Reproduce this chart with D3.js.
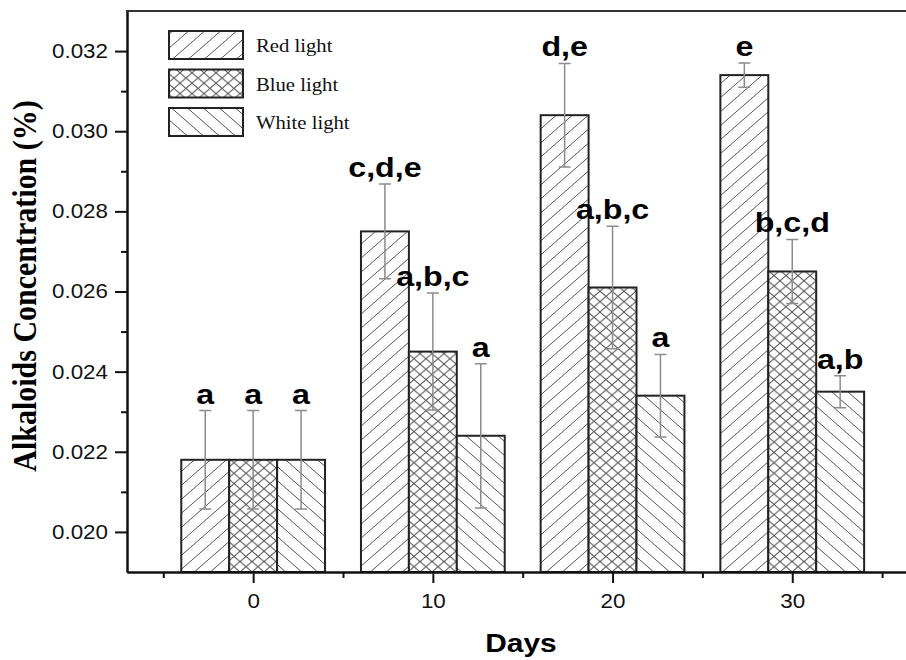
<!DOCTYPE html>
<html>
<head>
<meta charset="utf-8">
<script src="https://cdn.jsdelivr.net/npm/d3@7/dist/d3.min.js"></script>
<style>
  body { margin: 0; background: #fff; }
  svg { display: block; }
</style>
</head>
<body>
<div id="chart"></div>
<script>
const days = [0, 10, 20, 30];
const seriesNames = ["Red light", "Blue light", "White light"];
const redMeans = [0.0218, 0.0275, 0.0304, 0.0314];
const redErr = [0.00123, 0.00118, 0.00129, 0.0003];
const redLetters = ["a", "c,d,e", "d,e", "e"];
const blueMeans = [0.0218, 0.0245, 0.0261, 0.0265];
const blueErr = [0.00123, 0.00146, 0.00153, 0.0008];
const blueLetters = ["a", "a,b,c", "a,b,c", "b,c,d"];
const whiteMeans = [0.0218, 0.0224, 0.0234, 0.0235];
const whiteErr = [0.00123, 0.0018, 0.00103, 0.0004];
const whiteLetters = ["a", "a", "a", "a,b"];
const yTicks = [0.020, 0.022, 0.024, 0.026, 0.028, 0.030, 0.032];
const yMinorTicks = [0.021, 0.023, 0.025, 0.027, 0.029, 0.031];
const xTicks = [0, 10, 20, 30];
const xMinorTicks = [-5, 5, 15, 25, 35];

(function() {
    const width = 906, height = 660;
    const STRETCH = 1.15; // the original figure is a bit wider than tall
    const barW = 8/3;     // bar width in days

    const x = d3.scaleLinear().domain([-7.02, 36.33]).range([127, 906]);
    const y = d3.scaleLinear().domain([0.019, 0.033]).range([572, 11]);

    const svg = d3.select("#chart").append("svg")
            .attr("width", width)
            .attr("height", height);

    // hatch patterns
    const defs = svg.append("defs");
    function hatch(id, w, h, dirs) {
        const p = defs.append("pattern")
                .attr("id", id)
                .attr("patternUnits", "userSpaceOnUse")
                .attr("width", w)
                .attr("height", h);
        p.append("rect").attr("width", w).attr("height", h).attr("fill", "#fff");
        dirs.forEach(function(dir) {
            let d;
            if (dir === "/") {
                d = "M0," + h + "L" + w + ",0" +
                    "M" + (-w*0.2) + "," + (h*0.2) + "L" + (w*0.2) + "," + (-h*0.2) +
                    "M" + (w*0.8) + "," + (h*1.2) + "L" + (w*1.2) + "," + (h*0.8);
            } else {
                d = "M0,0L" + w + "," + h +
                    "M" + (-w*0.2) + "," + (h*0.8) + "L" + (w*0.2) + "," + (h*1.2) +
                    "M" + (w*0.8) + "," + (-h*0.2) + "L" + (w*1.2) + "," + (h*0.2);
            }
            p.append("path")
                    .attr("d", d)
                    .attr("stroke", "#555")
                    .attr("stroke-width", 1)
                    .attr("fill", "none");
        });
    }
    hatch("hRed", 16, 14, ["/"]);
    hatch("hBlue", 12, 10.4, ["/", "\\"]);
    hatch("hWhite", 16, 14, ["\\"]);

    const series = [
        {name: seriesNames[0], means: redMeans, err: redErr, letters: redLetters, fill: "url(#hRed)"},
        {name: seriesNames[1], means: blueMeans, err: blueErr, letters: blueLetters, fill: "url(#hBlue)"},
        {name: seriesNames[2], means: whiteMeans, err: whiteErr, letters: whiteLetters, fill: "url(#hWhite)"}
    ];

    function stretchedText(g, tx, ty, str, anchor) {
        return g.append("text")
                .attr("transform", "translate(" + tx + "," + ty + ") scale(" + STRETCH + ",1)")
                .attr("text-anchor", anchor || "middle")
                .text(str);
    }

    series.forEach(function(s, si) {
        const off = (si - 1)*barW;
        const g = svg.append("g");
        days.forEach(function(day, i) {
            const cx = x(day + off);
            const x0 = x(day + off - barW/2);
            const x1 = x(day + off + barW/2);
            g.append("rect")
                    .attr("x", x0)
                    .attr("y", y(s.means[i]))
                    .attr("width", x1 - x0)
                    .attr("height", y(0.019) - y(s.means[i]))
                    .attr("fill", s.fill)
                    .attr("stroke", "#222")
                    .attr("stroke-width", 2);
            const top = y(s.means[i] + s.err[i]);
            const bot = y(s.means[i] - s.err[i]);
            g.append("path")
                    .attr("d", "M" + cx + "," + top + "V" + bot +
                               "M" + (cx-6) + "," + top + "H" + (cx+6) +
                               "M" + (cx-6) + "," + bot + "H" + (cx+6))
                    .attr("stroke", "#8c8c8c")
                    .attr("stroke-width", 1.5)
                    .attr("fill", "none");
            stretchedText(g, cx, top - 7, s.letters[i])
                    .attr("font-family", "'Liberation Sans', Arial, sans-serif")
                    .attr("font-weight", "bold")
                    .attr("font-size", 28)
                    .attr("fill", "#000");
        });
    });

    // axes
    const yAxis = d3.axisLeft(y).tickValues(yTicks).tickSize(12).tickSizeOuter(0)
            .tickFormat(d3.format(".3f"));
    const gy = svg.append("g").attr("transform", "translate(127,0)").call(yAxis);
    gy.selectAll("text")
            .attr("x", 0)
            .attr("transform", "translate(-19,0) scale(1.12,1)")
            .attr("font-family", "'Liberation Sans', Arial, sans-serif")
            .attr("font-size", 20)
            .attr("fill", "#111");
    const gym = svg.append("g").attr("transform", "translate(127,0)")
            .call(d3.axisLeft(y).tickValues(yMinorTicks).tickSize(6).tickSizeOuter(0).tickFormat(""));

    const xAxis = d3.axisBottom(x).tickValues(xTicks).tickSize(11).tickSizeOuter(0);
    const gx = svg.append("g").attr("transform", "translate(0,572)").call(xAxis);
    gx.selectAll("text")
            .attr("y", 0)
            .attr("dy", 0)
            .attr("transform", "translate(0,36) scale(1.12,1)")
            .attr("font-family", "'Liberation Sans', Arial, sans-serif")
            .attr("font-size", 20)
            .attr("fill", "#111");
    const gxm = svg.append("g").attr("transform", "translate(0,572)")
            .call(d3.axisBottom(x).tickValues(xMinorTicks).tickSize(6).tickSizeOuter(0).tickFormat(""));

    [gy, gym, gx, gxm].forEach(function(g) {
        g.selectAll("path, line").attr("stroke", "#111").attr("stroke-width", 2);
    });

    svg.append("line")
            .attr("x1", 126).attr("x2", 906)
            .attr("y1", 11).attr("y2", 11)
            .attr("stroke", "#333")
            .attr("stroke-width", 2);

    // axis titles
    stretchedText(svg, 521, 652, "Days")
            .attr("font-family", "'Liberation Sans', Arial, sans-serif")
            .attr("font-weight", "bold")
            .attr("font-size", 26);
    svg.append("text")
            .attr("transform", "translate(36,286) scale(1.15,1) rotate(-90)")
            .attr("text-anchor", "middle")
            .attr("font-family", "'Liberation Serif', 'Times New Roman', serif")
            .attr("font-weight", "bold")
            .attr("font-size", 30)
            .text("Alkaloids Concentration (%)");

    // legend
    const leg = svg.append("g");
    series.forEach(function(s, i) {
        const ly = 31 + i*38.5;
        leg.append("rect")
                .attr("x", 169).attr("y", ly)
                .attr("width", 74).attr("height", 28)
                .attr("fill", s.fill)
                .attr("stroke", "#222")
                .attr("stroke-width", 2);
        stretchedText(leg, 256, ly + 21, s.name, "start")
                .attr("font-family", "'Liberation Serif', 'Times New Roman', serif")
                .attr("font-size", 18)
                .attr("fill", "#111");
    });
})();
</script>
</body>
</html>
